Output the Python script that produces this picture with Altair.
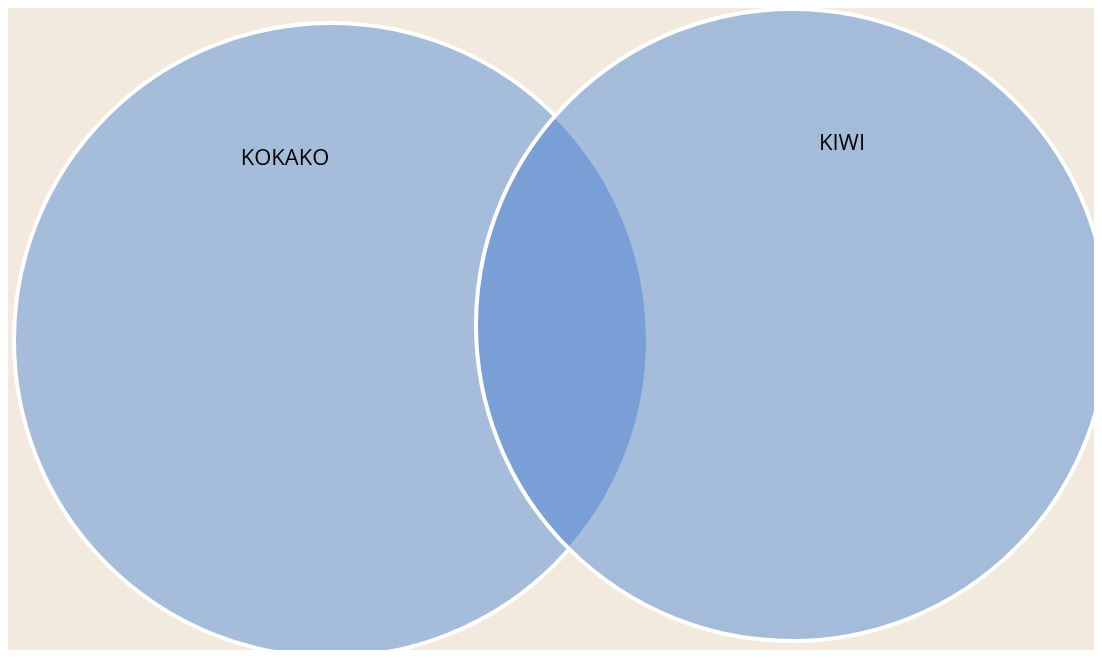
import altair as alt
import pandas as pd

# Venn sets: centre position (page pixels) and radius
set_names = ["KOKAKO", "KIWI"]
centre_x = [331, 792]
centre_y = [340, 325]
radius = [317, 316]

# label positions
label_x = [285, 842]
label_y = [158, 143]

BG = "#f2eadf"
FILL = "#a5bddb"
MULT = "#adcdf9"
LENS_FIX = "#7a9f00"

W, H = 1086, 642

circles = pd.DataFrame({
    "set": set_names,
    "x": centre_x,
    "y": centre_y,
    "r": radius,
})
circles["size"] = (2 * circles["r"]) ** 2

labels = pd.DataFrame({"set": set_names, "x": label_x, "y": label_y})

xs = alt.Scale(domain=[8, 8 + W], nice=False, zero=False)
ys = alt.Scale(domain=[8, 8 + H], nice=False, zero=False, reverse=True)
X = alt.X("x:Q", scale=xs, axis=None)
Y = alt.Y("y:Q", scale=ys, axis=None)
S = alt.Size("size:Q", scale=None, legend=None)

base = alt.Chart(circles)
left = base.transform_filter(alt.datum.set == "KOKAKO")
right = base.transform_filter(alt.datum.set == "KIWI")

left_fill = left.mark_point(
    shape="circle", filled=True, fill=FILL, opacity=1, stroke="white", strokeWidth=4
).encode(x=X, y=Y, size=S)

right_fill = right.mark_point(
    shape="circle", filled=True, fill=MULT, opacity=1, strokeWidth=0, blend="multiply"
).encode(x=X, y=Y, size=S)

right_darken = right.mark_point(
    shape="circle", filled=True, fill=FILL, opacity=1, strokeWidth=0, blend="darken"
).encode(x=X, y=Y, size=S)

left_lighten = left.mark_point(
    shape="circle", filled=True, fill=LENS_FIX, opacity=1, strokeWidth=0, blend="lighten"
).encode(x=X, y=Y, size=S)

right_stroke = right.mark_point(
    shape="circle", filled=False, fill="transparent", opacity=1,
    stroke="white", strokeWidth=4
).encode(x=X, y=Y, size=S)

text = alt.Chart(labels).mark_text(
    font="Open Sans", fontSize=22, color="#000000", align="center", baseline="middle"
).encode(x=X, y=Y, text="set:N")

chart = alt.layer(left_fill, right_fill, right_darken, left_lighten, right_stroke, text).properties(
    width=W, height=H, padding=0, autosize=alt.AutoSizeParams(type="none"),
    background=BG,
).configure_view(stroke=None)

chart.save("out.html", embed_options={"renderer": "svg", "actions": False})
